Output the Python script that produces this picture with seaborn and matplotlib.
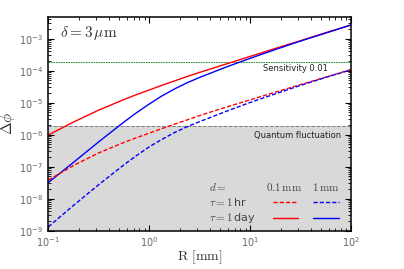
import numpy as np
import pandas as pd
import matplotlib
matplotlib.use('Agg')
import matplotlib.pyplot as plt
import seaborn as sns

# values (log-log plot)
R = [0.1, 0.178, 0.316, 0.562, 0.75, 1, 1.33, 1.78, 2.37, 3.16, 5.62, 10, 17.8, 31.6, 56.2, 100]
day_01mm = [9.8e-7, 2.5e-6, 5.9e-6, 1.26e-5, 1.8e-5, 2.5e-5, 3.5e-5, 4.8e-5, 6.6e-5, 8.9e-5,
            1.58e-4, 2.8e-4, 5.0e-4, 8.7e-4, 1.55e-3, 2.7e-3]
day_1mm = [3.2e-8, 1.38e-7, 6.0e-7, 2.5e-6, 4.9e-6, 9.1e-6, 1.62e-5, 2.7e-5, 4.2e-5, 6.2e-5,
           1.26e-4, 2.45e-4, 4.6e-4, 8.5e-4, 1.51e-3, 2.7e-3]
hr_01mm = [3.8e-8, 1.1e-7, 2.7e-7, 5.75e-7, 8.1e-7, 1.12e-6, 1.55e-6, 2.14e-6, 2.9e-6, 3.98e-6,
           7.1e-6, 1.23e-5, 2.14e-5, 3.7e-5, 6.3e-5, 1.1e-4]
hr_1mm = [1.32e-9, 6.2e-9, 2.75e-8, 1.15e-7, 2.24e-7, 4.2e-7, 7.1e-7, 1.17e-6, 1.78e-6, 2.57e-6,
          5.2e-6, 1.02e-5, 1.9e-5, 3.5e-5, 6.2e-5, 1.07e-4]
quantum_level = 1.86e-6
sensitivity_level = 1.87e-4

sns.set_style('ticks')
plt.rcParams['mathtext.fontset'] = 'cm'
plt.rcParams['font.family'] = ['DejaVu Sans']

fig = plt.figure(figsize=(4.04, 2.69), dpi=100)
ax = fig.add_axes([0.1196, 0.1424, 0.7494, 0.7956])

ax.set_xscale('log')
ax.set_yscale('log')
ax.set_xlim(0.1, 100)
ax.set_ylim(1e-9, 4.9e-3)

# quantum fluctuation region
ax.axhspan(1e-9, quantum_level, color='#d9d9d9', lw=0, zorder=0)
ax.axhline(quantum_level, color='gray', ls='--', lw=0.7, zorder=1)
ax.axhline(sensitivity_level, color='green', lw=0.6, ls=(0, (2, 1)), zorder=1)

dash = (0, (3, 1.5))
sns.lineplot(x=R, y=day_01mm, color='red', lw=1.0, ax=ax)
sns.lineplot(x=R, y=day_1mm, color='blue', lw=1.0, ax=ax)
sns.lineplot(x=R, y=hr_01mm, color='red', lw=1.0, ax=ax, linestyle=dash)
sns.lineplot(x=R, y=hr_1mm, color='blue', lw=1.0, ax=ax, linestyle=dash)

ax.text(0.815, 0.756, 'Sensitivity 0.01', transform=ax.transAxes, fontsize=6,
        ha='center', va='center', color='#222222')
ax.text(0.967, 0.447, 'Quantum fluctuation', transform=ax.transAxes, fontsize=6,
        ha='right', va='center', color='#222222')
ax.text(0.04, 0.925, r'$\delta = 3\,\mu\mathrm{m}$', transform=ax.transAxes,
        fontsize=11, ha='left', va='center', color='#333333')

# custom legend table
tc = '#444444'
ax.text(0.53, 0.204, r'$d =$', transform=ax.transAxes, fontsize=8, va='center', color=tc)
ax.text(0.78, 0.204, r'$0.1\,\mathrm{mm}$', transform=ax.transAxes, fontsize=8,
        va='center', ha='center', color=tc)
ax.text(0.916, 0.204, r'$1\,\mathrm{mm}$', transform=ax.transAxes, fontsize=8,
        va='center', ha='center', color=tc)
ax.text(0.53, 0.134, r'$\tau = 1\,$' + 'hr', transform=ax.transAxes, fontsize=8,
        va='center', color=tc)
ax.text(0.53, 0.059, r'$\tau = 1\,$' + 'day', transform=ax.transAxes, fontsize=8,
        va='center', color=tc)
ax.plot([0.742, 0.825], [0.134, 0.134], transform=ax.transAxes, color='red', lw=1.0, ls=dash)
ax.plot([0.874, 0.96], [0.134, 0.134], transform=ax.transAxes, color='blue', lw=1.0, ls=dash)
ax.plot([0.742, 0.825], [0.059, 0.059], transform=ax.transAxes, color='red', lw=1.0)
ax.plot([0.874, 0.96], [0.059, 0.059], transform=ax.transAxes, color='blue', lw=1.0)

ax.set_xlabel(r'$\mathrm{R}\ [\mathrm{mm}]$', fontsize=10, color='#333333')
ax.set_ylabel(r'$\Delta\phi$', fontsize=11, color='#333333')
ax.xaxis.set_label_coords(0.5, -0.081)
ax.yaxis.set_label_coords(-0.103, 0.5)

for s in ax.spines.values():
    s.set_linewidth(1.1)
    s.set_color('black')
ax.tick_params(which='both', direction='in', top=True, right=True, labelsize=7,
               labelcolor='#666666', color='black')
ax.tick_params(which='major', length=4, width=0.8)
ax.tick_params(which='minor', length=2, width=0.6)
ax.yaxis.set_major_locator(matplotlib.ticker.LogLocator(base=10, numticks=20))
ax.yaxis.set_minor_locator(matplotlib.ticker.LogLocator(base=10, subs=np.arange(2, 10), numticks=20))
ax.yaxis.set_minor_formatter(matplotlib.ticker.NullFormatter())

fig.savefig('out.png', dpi=100)
